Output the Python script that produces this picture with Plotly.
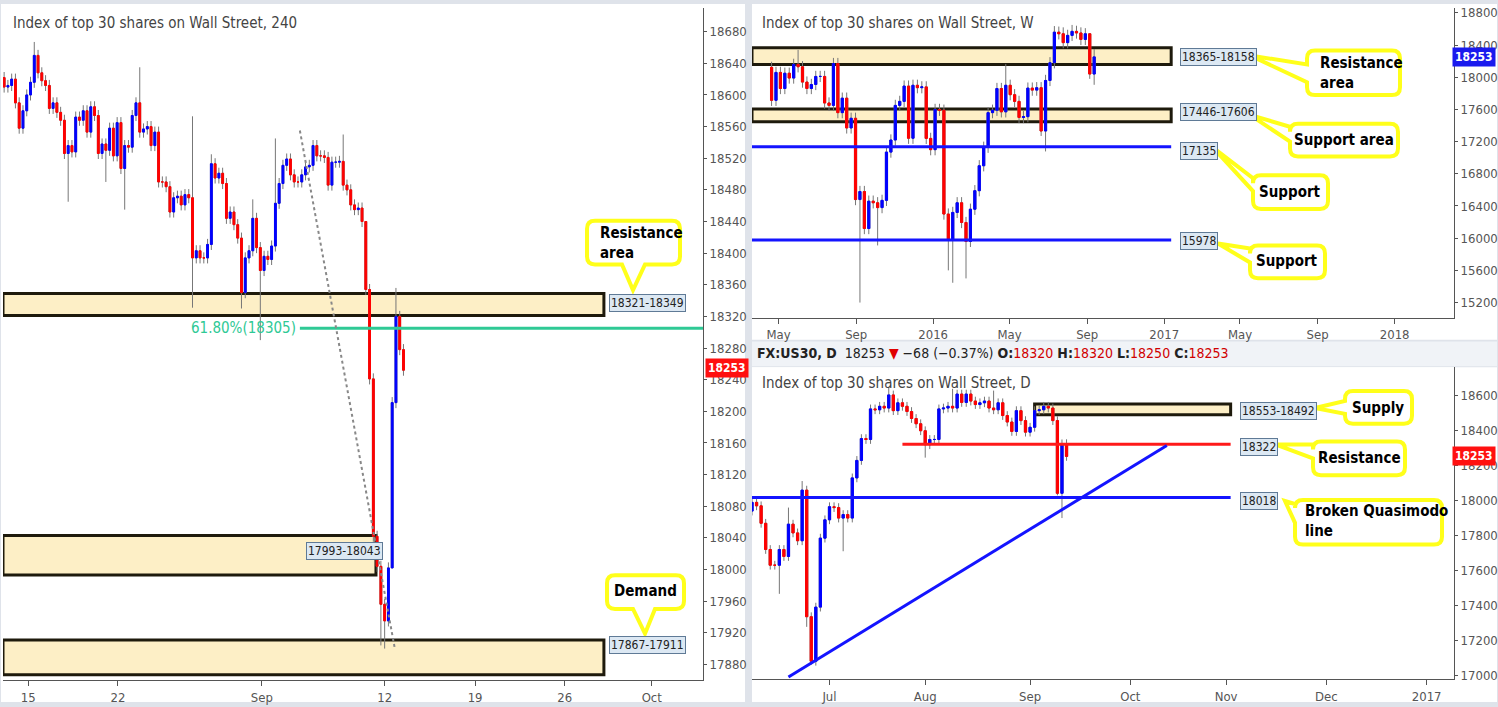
import plotly.graph_objects as go
import pandas as pd

W, H = 1498, 707
FONT = "DejaVu Sans Condensed, Liberation Sans Narrow, sans-serif"

# ---- 4H data (bar index) ----
close_4h = [18610, 18612, 18620, 18590, 18558, 18580, 18600, 18616, 18650, 18628,
            18618, 18612, 18583, 18590, 18578, 18568, 18526, 18536, 18528, 18572,
            18568, 18580, 18553, 18585, 18574, 18526, 18538, 18530, 18558, 18523,
            18565, 18507, 18536, 18534, 18574, 18590, 18553, 18557, 18560, 18536,
            18553, 18490, 18490, 18484, 18452, 18470, 18472, 18461, 18474, 18470,
            18394, 18403, 18394, 18394, 18411, 18513, 18495, 18501, 18488, 18444,
            18452, 18436, 18419, 18350, 18394, 18403, 18444, 18407, 18378, 18396,
            18392, 18409, 18463, 18488, 18511, 18519, 18499, 18490, 18490, 18499,
            18509, 18511, 18536, 18523, 18523, 18521, 18486, 18515, 18515, 18516,
            18486, 18480, 18461, 18455, 18457, 18440, 18354, 18241, 18042, 18004,
            17956, 17935, 18002, 18211, 18320, 18278, 18252]
first_open_4h = 18622
wicks_4h = {8: (18667, None), 17: (None, 18465), 27: (None, 18490), 32: (None, 18455),
            36: (18635, None), 50: (18573, 18331), 55: (18525, None), 63: (None, 18330),
            66: (18468, None), 68: (None, 18290), 72: (18545, None), 90: (18550, None),
            96: (18375, None), 103: (None, 18157), 104: (18356, None),
            100: (None, 17904), 101: (None, 17900)}
ticks_4h = [6.4, 30.2, 68.4, 101, 125, 148.8, 171.9]
ticktext_4h = ["15", "22", "Sep", "12", "19", "26", "Oct"]

# ---- weekly data ----
close_w = [17713, 18060, 17860, 18050, 17990, 18160, 18130, 17940, 17860, 17910,
           18010, 18010, 17680, 17650, 18170, 17560, 17740, 17370, 17490, 16480,
           16580, 16120, 16460, 16440, 16380, 16470, 17070, 17220, 17650, 17700,
           17890, 17242, 17900, 17870, 17880, 17240, 17100, 17600, 17590, 16300,
           15980, 16320, 16440, 16195, 15960, 16360, 16590, 16900, 17130, 17560,
           17590, 17860, 17570, 17900, 17783, 17700, 17500, 17510, 17865, 17840,
           17870, 17332, 17960, 18180, 18560, 18540, 18430, 18520, 18570, 18550,
           18470, 18540, 18040, 18253]
first_open_w = 18123
wicks_w = {6: (18340, None), 20: (None, 15200), 24: (None, 15910), 40: (None, 15600),
           41: (None, 15446), 44: (None, 15500), 61: (None, 17270), 62: (None, 17078),
           64: (18636, None), 66: (18620, None), 68: (18650, None), 53: (18165, None),
           73: (18350, 17906), 72: (18460, 17980)}

# ---- daily data ----
close_d = [17990, 17970, 17870, 17720, 17630, 17630, 17720, 17680, 17865, 17815,
           17770, 18060, 17335, 17080, 17390, 17785, 17890,
           17965, 17960, 17900, 17920, 17900, 18130, 18230, 18355, 18350, 18525,
           18520, 18540, 18530, 18605, 18515, 18560, 18540, 18510, 18470, 18440, 18400,
           18320, 18350, 18350, 18525, 18530, 18540, 18530, 18610, 18562, 18610,
           18570, 18550, 18560, 18570, 18530, 18520, 18560, 18487, 18450, 18396,
           18515, 18458, 18392,
           18420, 18515, 18520, 18540, 18530, 18458, 18042, 18326, 18253]
first_open_d = 17940
wicks_d = {11: (18112, None), 12: (None, 17277), 13: (None, 17060), 6: (None, 17466),
           8: (17960, None), 20: (None, 17710), 38: (None, 18246), 68: (18350, 17900),
           67: (None, 18030), 30: (18650, None), 44: (18640, None), 53: (18630, None)}


def ohlc(close, first_open, wicks, dflt):
    o = [first_open] + close[:-1]
    h, l = [], []
    for i, (a, b) in enumerate(zip(o, close)):
        hi, lo = wicks.get(i, (None, None))
        h.append(hi if hi else max(a, b) + dflt)
        l.append(lo if lo else min(a, b) - dflt)
    return o, h, l


def candles(x, o, h, l, c, xa, ya):
    grey = go.Candlestick(x=x, open=o, high=h, low=l, close=c, xaxis=xa, yaxis=ya,
                          increasing=dict(line=dict(color="#777", width=1), fillcolor="#777"),
                          decreasing=dict(line=dict(color="#777", width=1), fillcolor="#777"),
                          whiskerwidth=0, hoverinfo="skip")
    top = [max(a, b) for a, b in zip(o, c)]
    bot = [min(a, b) for a, b in zip(o, c)]
    body = go.Candlestick(x=x, open=o, high=top, low=bot, close=c, xaxis=xa, yaxis=ya,
                          increasing=dict(line=dict(color="#0000ff", width=1), fillcolor="#0000ff"),
                          decreasing=dict(line=dict(color="#ff0000", width=1), fillcolor="#ff0000"),
                          whiskerwidth=0)
    return [grey, body]


def P(x, y):
    return f"{x / W:.5f},{1 - y / H:.5f}"


def callout(x0, y0, x1, y1, side, a, b, tx, ty, r=8):
    if side == "bottom":
        d = (f"M {P(x0 + r, y0)} L {P(x1 - r, y0)} Q {P(x1, y0)} {P(x1, y0 + r)} "
             f"L {P(x1, y1 - r)} Q {P(x1, y1)} {P(x1 - r, y1)} L {P(b, y1)} L {P(tx, ty)} "
             f"L {P(a, y1)} L {P(x0 + r, y1)} Q {P(x0, y1)} {P(x0, y1 - r)} "
             f"L {P(x0, y0 + r)} Q {P(x0, y0)} {P(x0 + r, y0)} Z")
    else:
        d = (f"M {P(x0 + r, y0)} L {P(x1 - r, y0)} Q {P(x1, y0)} {P(x1, y0 + r)} "
             f"L {P(x1, y1 - r)} Q {P(x1, y1)} {P(x1 - r, y1)} L {P(x0 + r, y1)} "
             f"Q {P(x0, y1)} {P(x0, y1 - r)} L {P(x0, b)} L {P(tx, ty)} L {P(x0, a)} "
             f"L {P(x0, y0 + r)} Q {P(x0, y0)} {P(x0 + r, y0)} Z")
    return dict(type="path", xref="paper", yref="paper", path=d, fillcolor="white",
                line=dict(color="#ffff1a", width=4), layer="above")


fig = go.Figure()

o4, h4, l4 = ohlc(close_4h, first_open_4h, wicks_4h, 7)
for t in candles(list(range(len(close_4h))), o4, h4, l4, close_4h, "x", "y"):
    fig.add_trace(t)

dates_w = pd.date_range(end="2016-09-12", periods=len(close_w), freq="W-MON")
ow, hw, lw = ohlc(close_w, first_open_w, wicks_w, 70)
for t in candles(dates_w, ow, hw, lw, close_w, "x2", "y2"):
    fig.add_trace(t)

dates_d = pd.bdate_range(start="2016-06-08", periods=len(close_d))
od, hd, ld = ohlc(close_d, first_open_d, wicks_d, 25)
for t in candles(dates_d, od, hd, ld, close_d, "x3", "y3"):
    fig.add_trace(t)

ax = dict(showgrid=False, showline=True, linecolor="#555", ticks="outside", ticklen=5,
          tickcolor="#555", tickfont=dict(family=FONT, size=13, color="#555"),
          rangeslider=dict(visible=False), zeroline=False)
ay = dict(showgrid=False, showline=True, linecolor="#555", ticks="outside", ticklen=3,
          tickcolor="#555", side="right", tickfont=dict(family=FONT, size=13, color="#555"),
          zeroline=False, tickformat="d")

fig.update_layout(
    width=W, height=H, margin=dict(l=0, r=0, t=0, b=0),
    paper_bgcolor="#dfe3ea", plot_bgcolor="white", showlegend=False,
    xaxis=dict(ax, domain=[3 / W, 703 / W], range=[-0.3, 185.5], anchor="y",
               tickvals=ticks_4h, ticktext=ticktext_4h),
    yaxis=dict(ay, domain=[1 - 684 / H, 1 - 5 / H], range=[17860, 18710], anchor="x",
               tickvals=list(range(17880, 18681, 40))),
    xaxis2=dict(ax, domain=[752 / W, 1454 / W], range=["2015-03-20", "2018-04-05"], anchor="y2",
                tickvals=["2015-05-01", "2015-09-01", "2016-01-01", "2016-05-01", "2016-09-01",
                          "2017-01-01", "2017-05-01", "2017-09-01", "2018-01-01"],
                ticktext=["May", "Sep", "2016", "May", "Sep", "2017", "May", "Sep", "2018"]),
    yaxis2=dict(ay, domain=[1 - 318 / H, 1 - 5 / H], range=[15010, 18861], anchor="x2",
                tickvals=list(range(15200, 18801, 400))),
    xaxis3=dict(ax, domain=[752 / W, 1454 / W], range=["2016-06-08", "2017-01-10"], anchor="y3",
                rangebreaks=[dict(bounds=["sat", "mon"])],
                tickvals=["2016-07-01", "2016-08-01", "2016-09-01", "2016-10-03", "2016-11-01",
                          "2016-12-01", "2017-01-02"],
                ticktext=["Jul", "Aug", "Sep", "Oct", "Nov", "Dec", "2017"]),
    yaxis3=dict(ay, domain=[1 - 683 / H, 1 - 368 / H], range=[16977, 18763], anchor="x3",
                tickvals=list(range(17000, 18601, 200))),
)

shapes = []
# panel backgrounds
for (x0, y0, x1, y1, col) in [(1, 1, 745, 706, "white"), (752, 1, 1497, 340, "white"),
                              (752, 342, 1497, 367, "#f0f3f7"), (752, 368, 1497, 706, "white")]:
    shapes.append(dict(type="rect", xref="paper", yref="paper", x0=x0 / W, x1=x1 / W,
                       y0=1 - y1 / H, y1=1 - y0 / H, fillcolor=col, line=dict(width=0),
                       layer="below"))

zone = dict(fillcolor="#fdefc6", line=dict(color="#1e1a0c", width=3), layer="below")
# 4H zones
for lo, hi, xr in [(18321, 18349, 159.2), (17993, 18043, 98.7), (17867, 17911, 159.2)]:
    shapes.append(dict(type="rect", xref="x", yref="y", x0=-0.3, x1=xr, y0=lo, y1=hi, **zone))
shapes.append(dict(type="line", xref="x", yref="y", x0=78.5, x1=185.5, y0=18305, y1=18305,
                   line=dict(color="#2ec995", width=3)))
shapes.append(dict(type="line", xref="x", yref="y", x0=78.5, x1=103.7, y0=18555, y1=17900,
                   line=dict(color="#888", width=2, dash="dot")))
# weekly
for lo, hi in [(18158, 18365), (17446, 17606)]:
    shapes.append(dict(type="rect", xref="x2", yref="y2", x0="2015-03-20", x1="2017-01-12",
                       y0=lo, y1=hi, **zone))
for v in [17135, 15978]:
    shapes.append(dict(type="line", xref="x2", yref="y2", x0="2015-03-20", x1="2017-01-12",
                       y0=v, y1=v, line=dict(color="#1414ff", width=3)))
# daily
shapes.append(dict(type="rect", xref="x3", yref="y3", x0="2016-09-02", x1="2016-11-02",
                   y0=18492, y1=18553, **zone))
shapes.append(dict(type="line", xref="x3", yref="y3", x0="2016-07-25", x1="2016-11-02",
                   y0=18322, y1=18322, line=dict(color="#ff1a1a", width=3)))
shapes.append(dict(type="line", xref="x3", yref="y3", x0="2016-06-08", x1="2016-11-02",
                   y0=18018, y1=18018, line=dict(color="#1414ff", width=3)))
shapes.append(dict(type="line", xref="x3", yref="y3", x0="2016-06-20", x1="2016-10-13",
                   y0=16990, y1=18315, line=dict(color="#1414ff", width=3)))

# callouts
shapes += [
    callout(587, 220, 680, 264, "bottom", 622, 645, 633, 290),
    callout(607, 578, 684, 612, "bottom", 633, 655, 645, 637),
    callout(1307, 48, 1400, 93, "left", 62, 80, 1250, 53),
    callout(1290, 122, 1398, 155, "left", 125, 140, 1250, 113),
    callout(1253, 174, 1328, 208, "left", 177, 190, 1213, 146),
    callout(1250, 245, 1325, 278, "left", 248, 262, 1218, 243),
    callout(1345, 392, 1412, 425, "left", 402, 415, 1315, 409),
    callout(1313, 443, 1405, 477, "left", 446, 460, 1276, 446),
    callout(1295, 502, 1442, 547, "left", 506, 525, 1285, 503),
]
fig.update_layout(shapes=shapes)

ann = []


def text(x, y, s, size=14, color="#333", bold=False, anchor="left", **kw):
    ann.append(dict(xref="paper", yref="paper", x=x / W, y=1 - y / H, text=f"<b>{s}</b>" if bold else s,
                    showarrow=False, xanchor=anchor, yanchor="middle",
                    font=dict(family=FONT, size=size, color=color), **kw))


def tag(x, y, s, bg="#dce8f3", fg="#222", border="#5f7a96"):
    text(x, y, s, size=12, color=fg, bgcolor=bg, bordercolor=border, borderwidth=1, borderpad=1)


text(11, 20, "Index of top 30 shares on Wall Street, 240", size=15, color="#444")
text(760, 20, "Index of top 30 shares on Wall Street, W", size=15, color="#444")
text(760, 384, "Index of top 30 shares on Wall Street, D", size=15, color="#444")
text(755, 353, "<b>FX:US30, D</b>  18253 <span style='color:#e00000'>▼</span> −68 (−0.37%) "
     "<b>O:</b><span style='color:#d00000'>18320</span> <b>H:</b><span style='color:#d00000'>18320</span> "
     "<b>L:</b><span style='color:#d00000'>18250</span> <b>C:</b><span style='color:#d00000'>18253</span>",
     size=14, color="#222")
text(298, 328, "61.80%(18305)", size=15, color="#2ec995", anchor="right")

tag(609, 303, "18321-18349")
tag(306, 553, "17993-18043")
tag(609, 648, "17867-17911")
tag(1180, 55, "18365-18158")
tag(1180, 110, "17446-17606")
tag(1180, 149, "17135")
tag(1180, 240, "15978")
tag(1240, 412, "18553-18492")
tag(1240, 448, "18322")
tag(1240, 503, "18018")

text(705, 369, "<b>18253</b>", size=12, color="white", bgcolor="#ff1010", borderpad=2)
text(1496, 55, "<b>18253</b>", size=12, color="white", bgcolor="#1a1aee", borderpad=2, anchor="right")
text(1496, 458, "<b>18253</b>", size=12, color="white", bgcolor="#ff1010", borderpad=2, anchor="right")

text(598, 242, "Resistance<br>area", size=15, color="black", bold=True)
text(645, 594, "Demand", size=15, color="black", bold=True, anchor="center")
text(1318, 71, "Resistance<br>area", size=15, color="black", bold=True)
text(1344, 138, "Support area", size=15, color="black", bold=True, anchor="center")
text(1290, 191, "Support", size=15, color="black", bold=True, anchor="center")
text(1287, 261, "Support", size=15, color="black", bold=True, anchor="center")
text(1378, 409, "Supply", size=15, color="black", bold=True, anchor="center")
text(1359, 460, "Resistance", size=15, color="black", bold=True, anchor="center")
text(1303, 523, "Broken Quasimodo<br>line", size=15, color="black", bold=True)
for a in ann:
    if "<br>" in a["text"]:
        a["align"] = "left"
fig.update_layout(annotations=ann)

fig.write_html("out.html", config={"displayModeBar": False},
               post_script="document.body.style.margin='0';document.body.style.overflow='hidden';")
